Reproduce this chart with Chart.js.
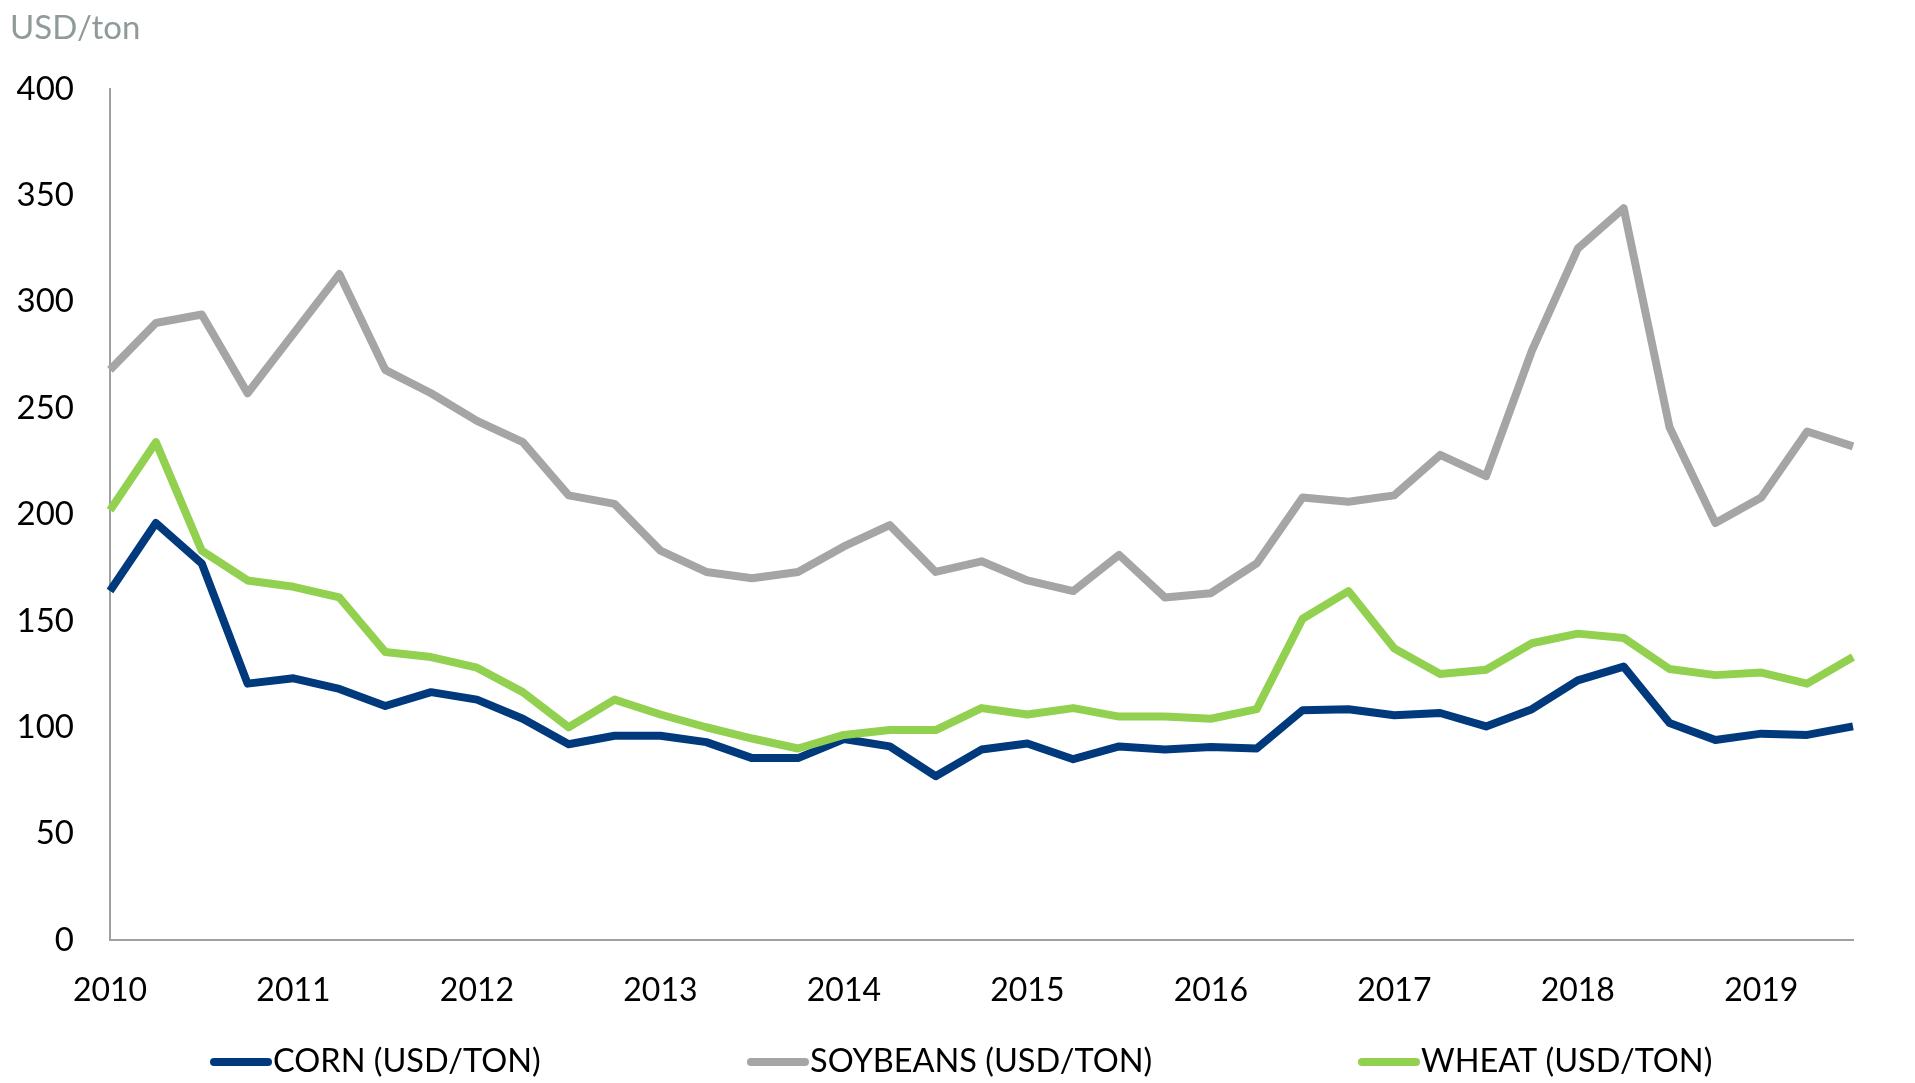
<!DOCTYPE html>
<html>
<head>
<meta charset="utf-8">
<script src="https://cdn.jsdelivr.net/npm/chart.js@4/dist/chart.umd.min.js"></script>
<style>
  html, body { margin: 0; padding: 0; background: #fff; }
  #wrap { width: 1915px; height: 1083px; position: relative; }
</style>
</head>
<body>
<div id="wrap"><canvas id="chart"></canvas></div>
<script>
// quarterly, 2010 Q1 .. 2019 Q3
const years = ['2010', '2011', '2012', '2013', '2014', '2015', '2016', '2017', '2018', '2019'];
const quarters = [];
years.forEach((y) => ['Q1', 'Q2', 'Q3', 'Q4'].forEach((q) => quarters.push(y + ' ' + q)));
quarters.length = 39;

const corn = [164, 196, 177, 120.5, 123, 118, 110, 116.5, 113, 104,
  92, 96, 96, 93, 85.5, 85.5, 94.5, 91, 77, 89.5,
  92.4, 85, 91, 89.5, 90.7, 90, 108, 108.5, 105.6, 106.7,
  100.4, 108.5, 122, 128.5, 102, 94, 97, 96.4, 100.4];

const soybeans = [268, 290, 294, 257, 285, 313, 268, 257, 244, 234,
  209, 205, 183, 173, 170, 173, 185, 195, 173, 178,
  169, 164, 181, 161, 163, 177, 208, 206, 209, 228,
  218, 277, 325, 344, 241, 196, 208, 239, 232];

const wheat = [202, 234, 183, 169, 166, 161, 135.4, 133, 128, 116.5,
  100, 113, 106, 100, 94.7, 90, 96.4, 98.7, 98.7, 109,
  106, 109, 105, 105, 104, 108.5, 151, 164, 137, 125,
  127, 139.5, 144, 142, 127.4, 124.5, 125.7, 120.5, 133];

const seriesNames = ['CORN (USD/TON)', 'SOYBEANS (USD/TON)', 'WHEAT (USD/TON)'];
const seriesColors = ['#003A7D', '#A5A5A5', '#92D050'];
const yTicks = [0, 50, 100, 150, 200, 250, 300, 350, 400];

const FONT = 'Lato, "Open Sans", sans-serif';

// unit label + legend drawn on the canvas
const extras = {
  id: 'extras',
  afterDraw(chart) {
    const ctx = chart.ctx;
    ctx.save();
    ctx.font = '33px ' + FONT;
    ctx.fillStyle = '#8F9B9B';
    ctx.textBaseline = 'middle';
    ctx.textAlign = 'left';
    ctx.fillText('USD/ton', 10, 28);

    const legendX = [214, 751, 1362];
    const y = 1062;
    ctx.font = '32.5px ' + FONT;
    ctx.fillStyle = '#000';
    seriesNames.forEach((name, i) => {
      ctx.strokeStyle = seriesColors[i];
      ctx.lineWidth = 8;
      ctx.lineCap = 'round';
      ctx.beginPath();
      ctx.moveTo(legendX[i], y);
      ctx.lineTo(legendX[i] + 54, y);
      ctx.stroke();
      ctx.fillText(name, legendX[i] + 59, y);
    });
    ctx.restore();
  },
};

const ds = (label, data, color, order) => ({
  label,
  data,
  borderColor: color,
  backgroundColor: color,
  borderWidth: 8,
  borderJoinStyle: 'round',
  borderCapStyle: 'butt',
  pointRadius: 0,
  tension: 0,
  fill: false,
  order,
});

new Chart(document.getElementById('chart'), {
  type: 'line',
  data: {
    labels: quarters,
    datasets: [
      ds(seriesNames[0], corn, seriesColors[0], 3),
      ds(seriesNames[1], soybeans, seriesColors[1], 2),
      ds(seriesNames[2], wheat, seriesColors[2], 1),
    ],
  },
  options: {
    responsive: true,
    maintainAspectRatio: false,
    animation: false,
    layout: {
      padding: { left: 0, right: 62, top: 89, bottom: 63 },
    },
    plugins: {
      legend: { display: false },
      tooltip: { enabled: false },
    },
    scales: {
      x: {
        type: 'category',
        offset: false,
        grid: { display: false },
        border: { display: true, color: '#A0A0A0', width: 2 },
        ticks: {
          autoSkip: false,
          maxRotation: 0,
          padding: 23,
          color: '#000',
          font: { family: FONT, size: 32 },
          callback: function (val, idx) {
            const lbl = quarters[idx];
            return lbl.endsWith('Q1') ? lbl.slice(0, 4) : '';
          },
        },
        afterFit: (scale) => { scale.height = 80; },
      },
      y: {
        min: 0,
        max: 400,
        grid: { display: false },
        border: { display: true, color: '#A0A0A0', width: 2 },
        afterBuildTicks: (scale) => { scale.ticks = yTicks.map((v) => ({ value: v })); },
        ticks: {
          padding: 28,
          color: '#000',
          font: { family: FONT, size: 33 },
        },
        afterFit: (scale) => { scale.width = 110; },
      },
    },
  },
  plugins: [extras],
});
</script>
</body>
</html>
